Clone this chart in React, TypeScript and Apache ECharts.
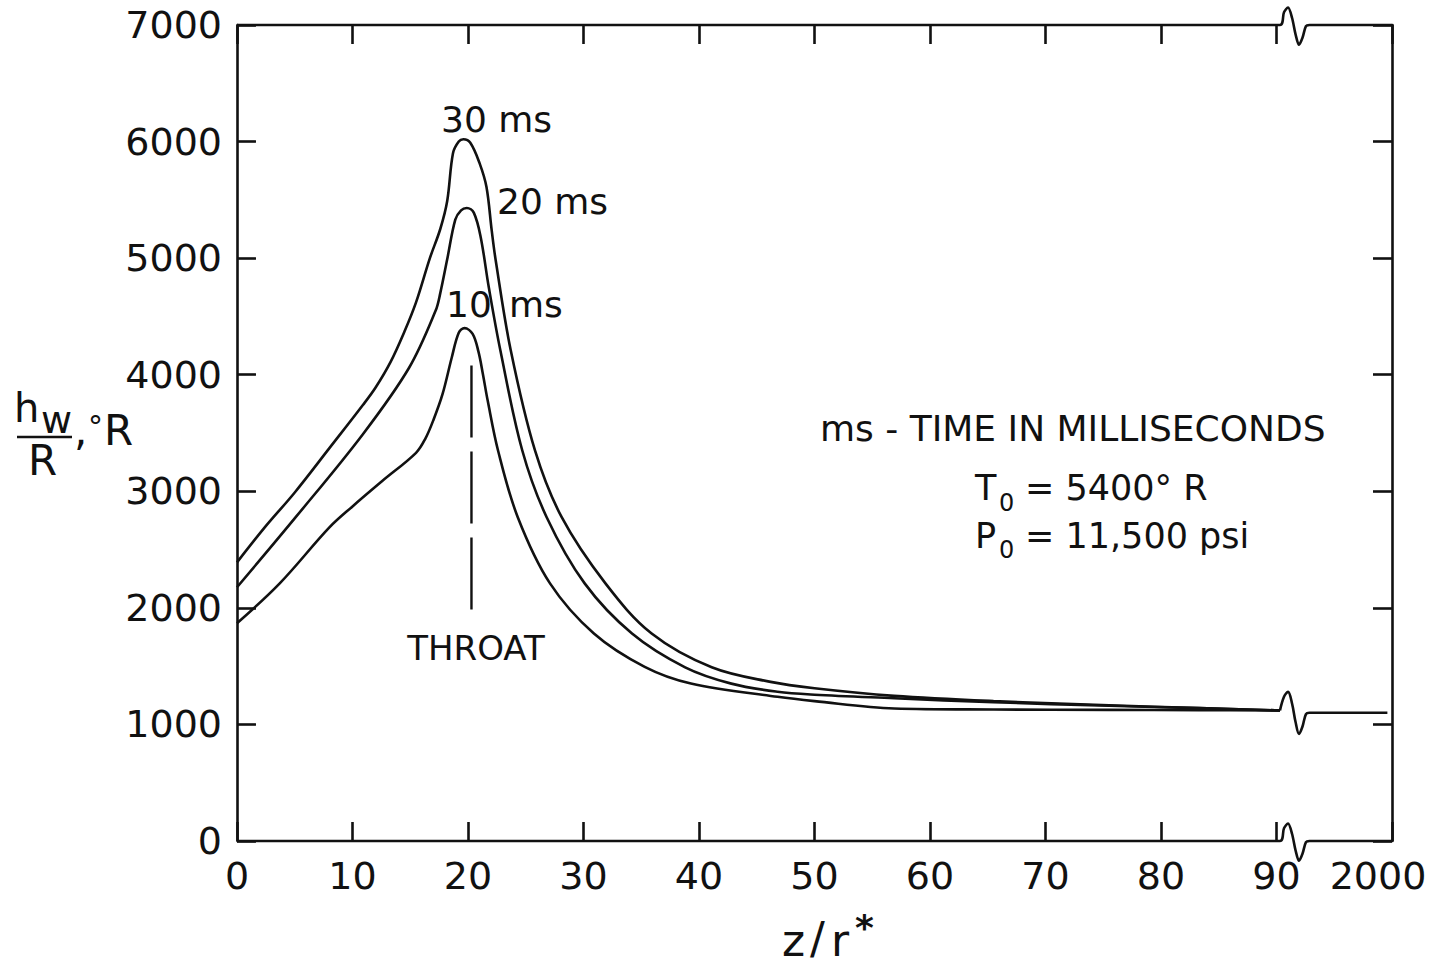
import React, { useEffect, useRef } from "react";
import * as echarts from "echarts";

// ---- data ----
const xTicks = [0, 10, 20, 30, 40, 50, 60, 70, 80, 90, 100];
const xTickLabels = ["0", "10", "20", "30", "40", "50", "60", "70", "80", "90", "2000"];
const yTicks = [0, 1000, 2000, 3000, 4000, 5000, 6000, 7000];

const z30 = [0, 2.4, 5.0, 8.0, 10.9, 12.0, 13.3, 14.5, 15.5, 16.7, 17.6, 18.2, 18.7, 19.2, 19.6, 20.2, 21.0, 21.6, 22.05, 22.4, 23.7, 25.8, 28.1, 31.9, 35.9, 41.1, 46.2, 50.0, 56.9, 65.5, 75.5, 83.3, 90.3];
const h30 = [2390, 2690, 2990, 3370, 3740, 3890, 4110, 4370, 4620, 5000, 5250, 5490, 5900, 6000, 6020, 5990, 5815, 5610, 5240, 4980, 4210, 3350, 2780, 2210, 1780, 1490, 1365, 1310, 1245, 1200, 1165, 1140, 1120];

const z20 = [0, 5.1, 10.9, 14.9, 17.2, 17.6, 18.2, 18.9, 19.4, 19.9, 20.5, 21.1, 21.8, 22.8, 24.7, 26.8, 30.1, 34.2, 38.8, 42.8, 46.8, 50.0, 56.9, 65.5, 75.5, 83.3, 90.3];
const h20 = [2177, 2780, 3490, 4060, 4550, 4700, 4990, 5330, 5410, 5430, 5390, 5180, 4750, 4210, 3350, 2780, 2210, 1780, 1490, 1350, 1280, 1255, 1225, 1190, 1160, 1140, 1120];

const z10 = [0, 3.7, 8.0, 10.0, 12.6, 15.5, 16.3, 17.0, 17.8, 18.6, 19.2, 19.7, 20.4, 20.9, 21.3, 21.7, 22.6, 24.3, 27.1, 30.9, 35.3, 39.3, 46.8, 50.0, 56.9, 65.5, 75.5, 83.3, 90.3];
const h10 = [1868, 2210, 2690, 2870, 3090, 3330, 3450, 3610, 3835, 4150, 4360, 4400, 4350, 4200, 4000, 3780, 3350, 2780, 2210, 1780, 1494, 1351, 1237, 1200, 1137, 1128, 1125, 1122, 1120];

// merged tail after the axis break
const tailStart = 90.3;
const tailEnd = 99.6;
const tailLevel = 1100;
const tailStartLevel = 1120;

// throat marker
const throatZ = 20.3;
const throatTop = 4080;
const throatBottom = 1868;

// axis-break wave template (offsets)
const breakDx = [0, 0.35, 0.7, 1.05, 1.35, 1.65, 1.95, 2.25];
const breakDy = [0, 110, 150, 60, -80, -170, -110, -10];
const breakAt = 90.3;

const FONT = "DejaVu Sans";

function zip(xs: number[], ys: number[]) {
  return xs.map((x, i) => [x, ys[i]]);
}

function waveLine(base: number, end: number) {
  const pts: number[][] = [[0, base], [breakAt, base]];
  for (let i = 1; i < breakDx.length; i++) {
    pts.push([breakAt + breakDx[i], base + breakDy[i]]);
  }
  pts.push([breakAt + breakDx[breakDx.length - 1] + 0.3, base]);
  pts.push([end, base]);
  return pts;
}

function tailLine() {
  const pts: number[][] = [[tailStart, tailStartLevel]];
  for (let i = 1; i < breakDx.length; i++) {
    const lvl = tailStartLevel + (tailLevel - tailStartLevel) * (i / (breakDx.length - 1));
    pts.push([tailStart + breakDx[i], lvl + breakDy[i] * 1.1]);
  }
  pts.push([tailStart + breakDx[breakDx.length - 1] + 0.3, tailLevel]);
  pts.push([tailEnd, tailLevel]);
  return pts;
}

export default function App() {
  const ref = useRef<HTMLDivElement>(null);
  useEffect(() => {
    if (!ref.current) return;
    const chart = echarts.init(ref.current, null, { renderer: "svg" });
    const black = "#111";
    const lw = 2.6;
    const axisTick = { show: true, inside: true, length: 19, lineStyle: { color: black, width: lw } };
    const lineStyle = { color: black, width: lw };
    const curve = (name: string, data: number[][]) => ({
      name,
      type: "line",
      data,
      smooth: 0.35,
      symbol: "none",
      lineStyle,
      silent: true,
      z: 3,
    });
    const textStyle = (text: string, x: number, y: number, size: number, align = "left", weight = "normal") => ({
      type: "text",
      x,
      y,
      silent: true,
      style: {
        text,
        fill: black,
        fontSize: size,
        fontFamily: FONT,
        fontWeight: weight,
        align,
        textAlign: align,
        verticalAlign: "middle",
        textVerticalAlign: "middle",
      },
    });
    chart.setOption({
      animation: false,
      backgroundColor: "#fff",
      grid: { left: 237, right: 44, top: 25, bottom: 124, containLabel: false },
      xAxis: [
        {
          type: "value",
          min: xTicks[0],
          max: xTicks[xTicks.length - 1],
          interval: 10,
          position: "bottom",
          axisLine: { show: false, onZero: false },
          axisTick,
          splitLine: { show: false },
          axisLabel: {
            color: black,
            fontSize: 38,
            fontFamily: FONT,
            margin: 16,
            formatter: (v: number) => {
              const i = xTicks.indexOf(v);
              const t = i >= 0 ? xTickLabels[i] : "";
              return v === 100 ? "{last|" + t + "}" : t;
            },
            rich: { last: { fontSize: 38, fontFamily: FONT, color: black, padding: [0, 28, 0, 0] } },
          },
        },
        {
          type: "value",
          min: xTicks[0],
          max: xTicks[xTicks.length - 1],
          interval: 10,
          position: "top",
          axisLine: { show: false, onZero: false },
          axisTick,
          splitLine: { show: false },
          axisLabel: { show: false },
        },
      ],
      yAxis: [
        {
          type: "value",
          min: yTicks[0],
          max: yTicks[yTicks.length - 1],
          interval: 1000,
          position: "left",
          axisLine: { show: true, onZero: false, lineStyle },
          axisTick,
          splitLine: { show: false },
          axisLabel: { color: black, fontSize: 38, fontFamily: FONT, margin: 15, formatter: (v: number) => String(v) },
        },
        {
          type: "value",
          min: yTicks[0],
          max: yTicks[yTicks.length - 1],
          interval: 1000,
          position: "right",
          axisLine: { show: true, onZero: false, lineStyle },
          axisTick,
          splitLine: { show: false },
          axisLabel: { show: false },
        },
      ],
      series: [
        curve("30 ms", zip(z30, h30)),
        curve("20 ms", zip(z20, h20)),
        curve("10 ms", zip(z10, h10)),
        { ...curve("tail", tailLine()), clip: false },
        {
          name: "throat",
          type: "line",
          data: [[throatZ, throatTop], [throatZ, throatBottom]],
          symbol: "none",
          silent: true,
          lineStyle: { color: black, width: 2.4, type: [72, 14] },
        },
        {
          name: "topFrame",
          type: "line",
          data: waveLine(yTicks[yTicks.length - 1], xTicks[xTicks.length - 1]),
          smooth: 0.3,
          symbol: "none",
          clip: false,
          silent: true,
          lineStyle,
        },
        {
          name: "bottomFrame",
          type: "line",
          data: waveLine(yTicks[0], xTicks[xTicks.length - 1]),
          smooth: 0.3,
          symbol: "none",
          clip: false,
          silent: true,
          lineStyle,
        },
      ],
      graphic: [
        textStyle("30 ms", 441, 119, 36),
        textStyle("20 ms", 497, 201, 36),
        textStyle("10", 446, 304, 36),
        textStyle("ms", 509, 304, 36),
        textStyle("THROAT", 476, 648, 34, "center"),
        textStyle("ms - TIME IN MILLISECONDS", 820, 428, 36),
        textStyle("T", 975, 488, 35),
        textStyle("0", 999, 503, 24),
        textStyle("= 5400° R", 1025, 488, 35),
        textStyle("P", 975, 536, 35),
        textStyle("0", 999, 550, 24),
        textStyle("= 11,500 psi", 1025, 536, 35),
        // y-axis title  h_w / R , °R
        textStyle("h", 14, 408, 40),
        textStyle("w", 41, 420, 38),
        {
          type: "line",
          silent: true,
          shape: { x1: 17, y1: 437, x2: 72, y2: 437 },
          style: { stroke: black, lineWidth: 2.6 },
        },
        textStyle("R", 28, 460, 42),
        textStyle(",", 74, 430, 42),
        textStyle("°", 88, 426, 30),
        textStyle("R", 104, 430, 42),
        // x-axis title  z/r*
        textStyle("z", 782, 940, 44),
        textStyle("/", 810, 938, 44),
        textStyle("r", 831, 940, 44),
        textStyle("*", 855, 927, 36, "left", "bold"),
      ],
    });
    return () => chart.dispose();
  }, []);
  return (
    <div
      ref={ref}
      style={{ position: "absolute", left: 0, top: 0, width: 1436, height: 965, background: "#fff" }}
    />
  );
}
